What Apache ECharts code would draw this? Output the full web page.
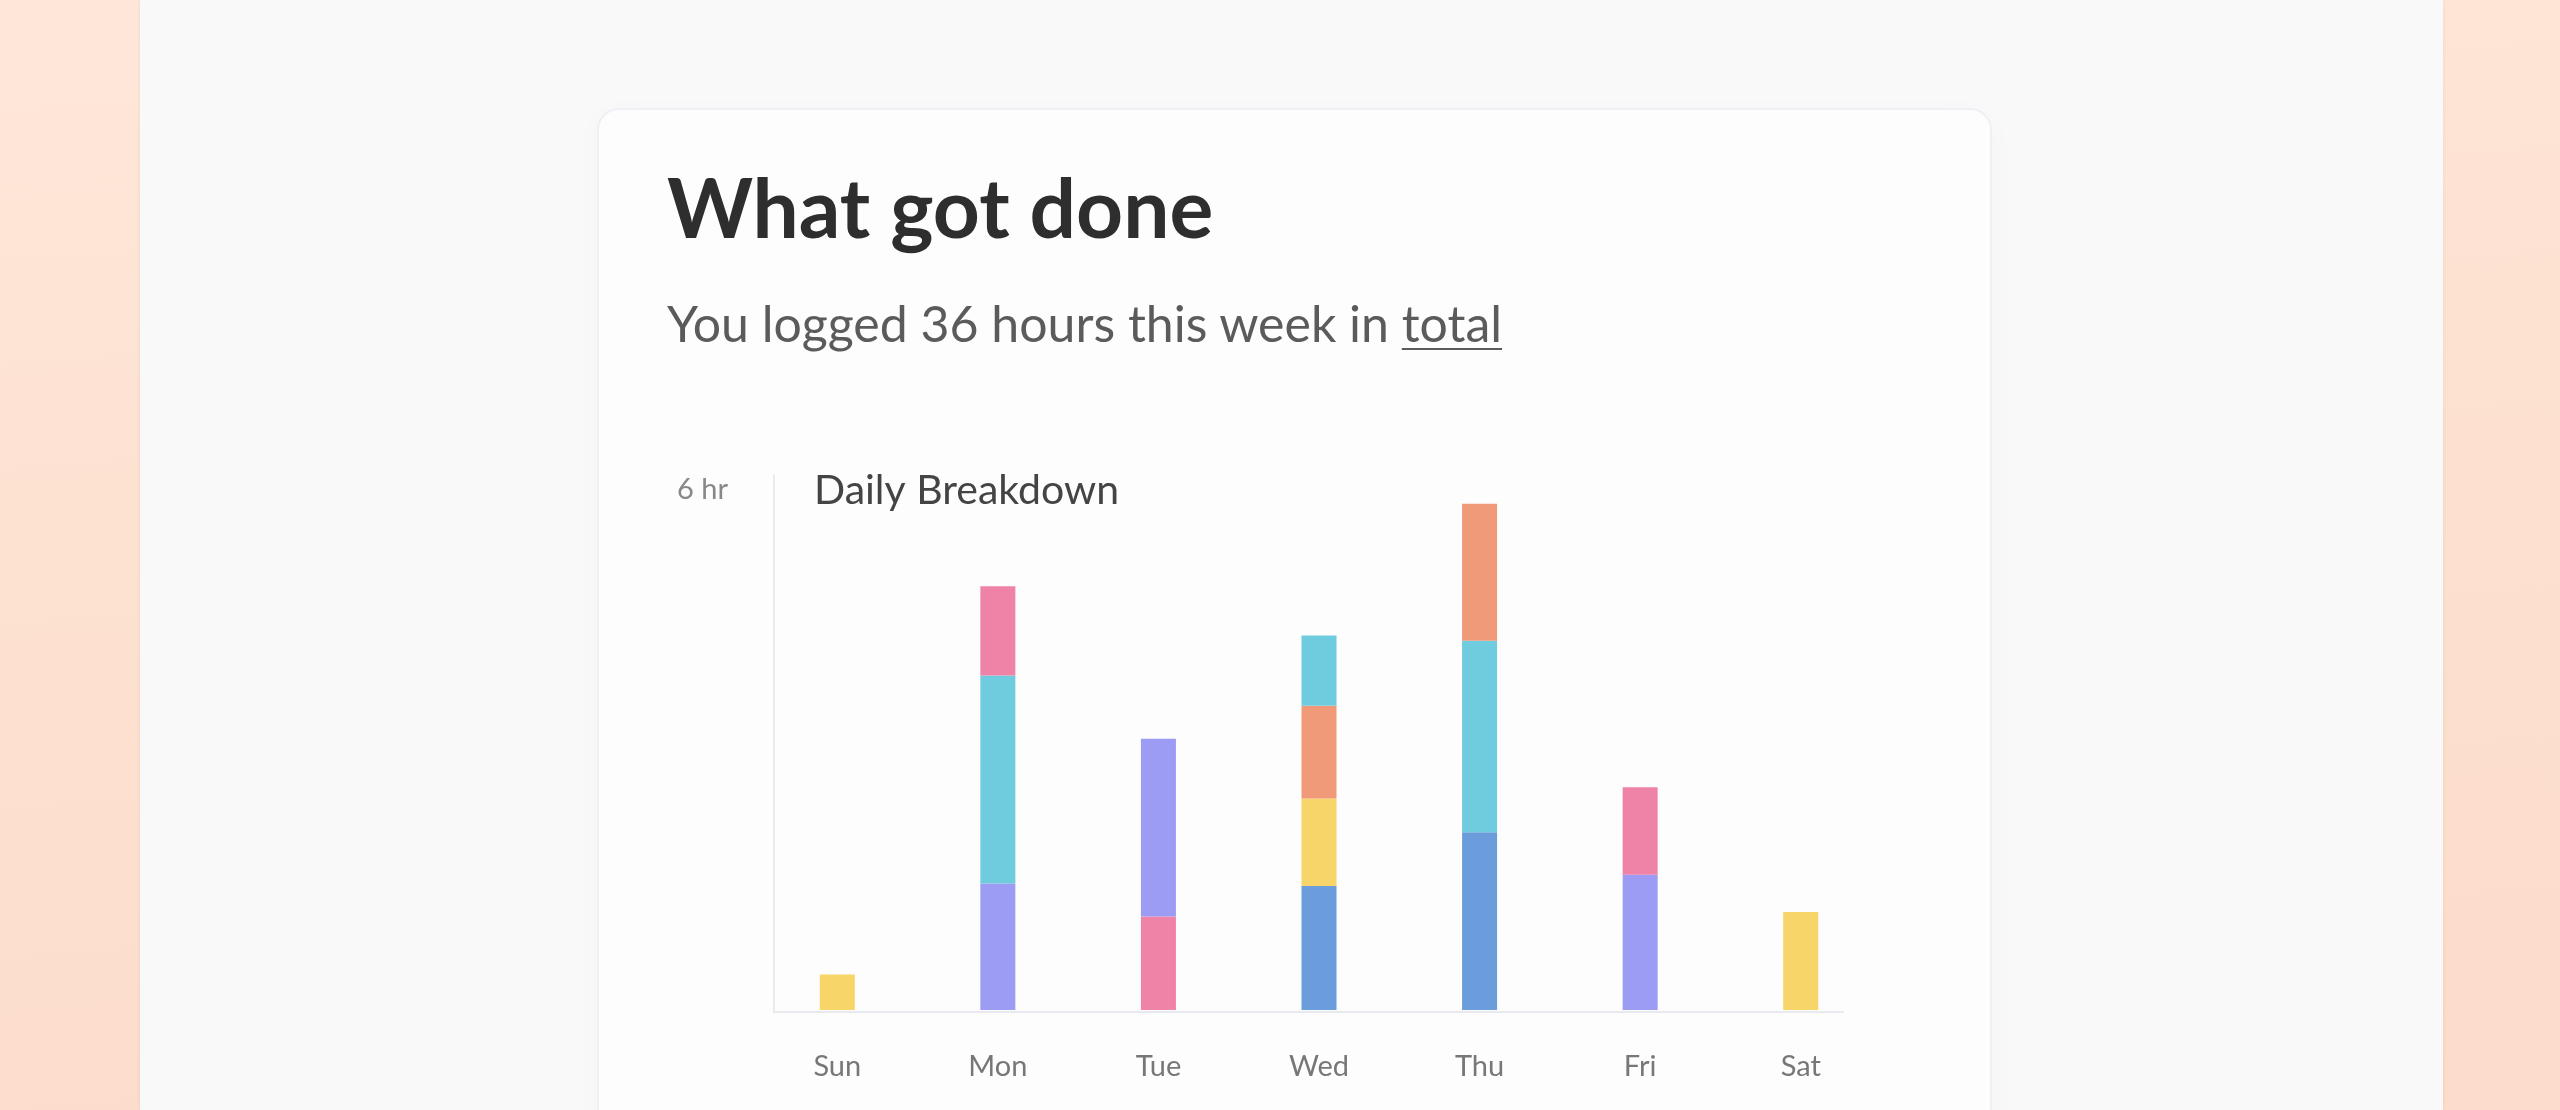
<!DOCTYPE html>
<html>
<head>
<meta charset="utf-8">
<title>What got done</title>
<script src="https://cdn.jsdelivr.net/npm/echarts@6/dist/echarts.min.js"></script>
<style>
  html, body { margin: 0; padding: 0; width: 2560px; height: 1110px; overflow: hidden; }
  body {
    position: relative;
    font-family: Lato, "Noto Sans", sans-serif;
    background: linear-gradient(175deg, #fee7d9 0%, #fde0cf 55%, #fcdccb 100%);
  }
  #panel {
    position: absolute; left: 140px; top: 0; width: 2303px; height: 1110px;
    background: #f9f9fa;
    box-shadow: 0 0 4px rgba(0, 0, 0, 0.07);
  }
  #card {
    position: absolute; left: 597px; top: 108px; width: 1391px; height: 1100px;
    background: #fdfdfd;
    border: 2px solid #eef0f5;
    border-radius: 22px;
    box-shadow: 0 6px 30px rgba(0, 0, 0, 0.025);
  }
  h1 {
    position: absolute; left: 667px; top: 165px; margin: 0;
    font-size: 82px; line-height: 1; font-weight: 700; color: #2e2e2e;
  }
  p.sub {
    position: absolute; left: 667px; top: 298px; margin: 0;
    font-size: 50px; line-height: 1; font-weight: 400; color: #5b5b5b;
  }
  p.sub u { text-decoration-thickness: 2px; text-underline-offset: 6px; }
  #chart { position: absolute; left: 0; top: 0; width: 2560px; height: 1110px; }
</style>
</head>
<body>
<div id="panel"></div>
<div id="card"></div>
<h1>What got done</h1>
<p class="sub">You logged 36 hours this week in <u>total</u></p>
<div id="chart"></div>
<script>
// days on the x axis
var days = ['Sun', 'Mon', 'Tue', 'Wed', 'Thu', 'Fri', 'Sat'];

// each day is a stack of tasks, bottom to top; one array per stack level
var level1Tasks = ['Project E', 'Project B', 'Project D', 'Project A', 'Project A', 'Project B', 'Project E'];
var level1Hours = [0.41, 1.46, 1.08, 1.43, 2.05, 1.56, 1.13];

var level2Tasks = [null, 'Project C', 'Project B', 'Project E', 'Project C', 'Project D', null];
var level2Hours = [null, 2.40, 2.05, 1.01, 2.21, 1.01, null];

var level3Tasks = [null, 'Project D', null, 'Project F', 'Project F', null, null];
var level3Hours = [null, 1.03, null, 1.07, 1.58, null, null];

var level4Tasks = [null, null, null, 'Project C', null, null, null];
var level4Hours = [null, null, null, 0.81, null, null, null];

var yTicks = [0, 6];

var taskColors = {
  'Project A': '#6b9cdb',
  'Project B': '#9c9cf4',
  'Project C': '#6fcbde',
  'Project D': '#ef82a7',
  'Project E': '#f8d568',
  'Project F': '#f09a7a'
};

var levels = [
  [level1Tasks, level1Hours],
  [level2Tasks, level2Hours],
  [level3Tasks, level3Hours],
  [level4Tasks, level4Hours]
];

var chart = echarts.init(document.getElementById('chart'), null, { renderer: 'canvas' });

var series = levels.map(function (lv, k) {
  return {
    name: 'level' + (k + 1),
    type: 'bar',
    stack: 'day',
    xAxisIndex: 0,
    yAxisIndex: 0,
    barWidth: 35,
    silent: true,
    data: lv[1].map(function (v, i) {
      if (v == null) return null;
      return { value: v, itemStyle: { color: taskColors[lv[0][i]] } };
    })
  };
});

var option = {
  animation: false,
  backgroundColor: 'transparent',
  title: {
    text: 'Daily Breakdown',
    left: 814,
    top: 470,
    padding: 0,
    textStyle: { fontFamily: 'Lato', fontSize: 41, fontWeight: 'normal', color: '#444' }
  },
  grid: [
    { left: 757, top: 490, width: 1124, height: 520 },
    // only carries the two thin axis lines
    { left: 774, top: 475, width: 1069, height: 537 }
  ],
  xAxis: [
    {
      type: 'category',
      gridIndex: 0,
      data: days,
      axisLine: { show: false },
      axisTick: { show: false },
      axisLabel: { margin: 42, fontSize: 29, color: '#777', fontFamily: 'Lato' }
    },
    {
      type: 'value',
      gridIndex: 1,
      min: 0,
      max: 1,
      axisLine: { show: true, lineStyle: { color: '#e8e9ef', width: 2 } },
      axisTick: { show: false },
      axisLabel: { show: false },
      splitLine: { show: false }
    }
  ],
  yAxis: [
    {
      type: 'value',
      gridIndex: 0,
      min: yTicks[0],
      max: yTicks[1],
      interval: yTicks[1] - yTicks[0],
      axisLine: { show: false },
      axisTick: { show: false },
      splitLine: { show: false },
      axisLabel: {
        showMinLabel: false,
        formatter: '{value} hr',
        margin: 29,
        fontSize: 29,
        color: '#888',
        fontFamily: 'Lato'
      }
    },
    {
      type: 'value',
      gridIndex: 1,
      min: 0,
      max: 1,
      axisLine: { show: true, lineStyle: { color: '#ebebeb', width: 2 } },
      axisTick: { show: false },
      axisLabel: { show: false },
      splitLine: { show: false }
    }
  ],
  series: series
};

chart.setOption(option);
</script>
</body>
</html>
